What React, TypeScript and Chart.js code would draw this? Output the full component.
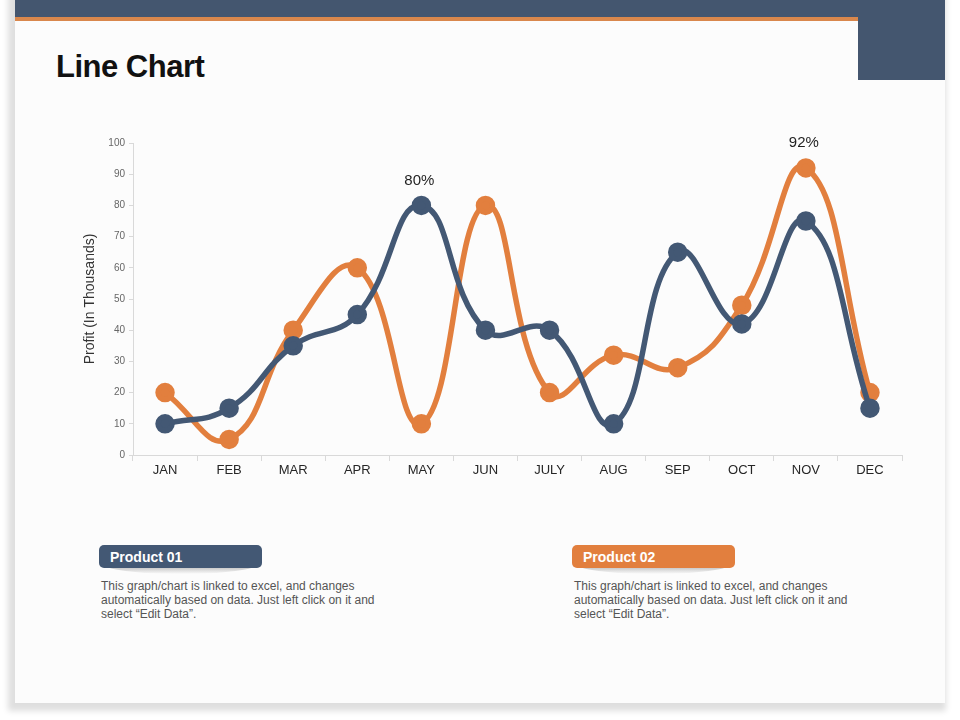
import React, { useEffect, useRef } from "react";
import { Chart, registerables } from "chart.js";

Chart.register(...registerables);

const months = ["JAN", "FEB", "MAR", "APR", "MAY", "JUN", "JULY", "AUG", "SEP", "OCT", "NOV", "DEC"];
const product01 = [10, 15, 35, 45, 80, 40, 40, 10, 65, 42, 75, 15];
const product02 = [20, 5, 40, 60, 10, 80, 20, 32, 28, 48, 92, 20];
const yTicks = { min: 0, max: 100, step: 10 };
const callouts = [
  { dataset: 0, index: 4, text: "80%" },
  { dataset: 1, index: 10, text: "92%" },
];
const seriesNames = ["Product 01", "Product 02"];
const description = [
  "This graph/chart is linked to excel,  and changes",
  "automatically based on data. Just left click on it and",
  "select \u201cEdit Data\u201d.",
];

const BLUE = "#435874";
const ORANGE = "#E27F3E";
const HEADER = "#44566F";

const calloutPlugin = {
  id: "callouts",
  afterDatasetsDraw(chart: any) {
    const ctx = chart.ctx;
    ctx.save();
    ctx.font = "15px 'Liberation Sans', Arial, sans-serif";
    ctx.fillStyle = "#1f1f1f";
    ctx.textAlign = "center";
    ctx.textBaseline = "middle";
    callouts.forEach((c) => {
      const meta = chart.getDatasetMeta(c.dataset);
      const pt = meta.data[c.index];
      if (pt) ctx.fillText(c.text, pt.x - 2, pt.y - 25);
    });
    ctx.restore();
  },
};

function LineChart() {
  const ref = useRef<HTMLCanvasElement | null>(null);
  useEffect(() => {
    if (!ref.current) return;
    const chart = new Chart(ref.current, {
      type: "line",
      data: {
        labels: months,
        datasets: [
          {
            label: seriesNames[0],
            data: product01,
            borderColor: BLUE,
            backgroundColor: BLUE,
            pointBackgroundColor: BLUE,
            pointBorderColor: BLUE,
            borderWidth: 5.5,
            pointRadius: 7,
            tension: 0.45,
            clip: false as any,
          },
          {
            label: seriesNames[1],
            data: product02,
            borderColor: ORANGE,
            backgroundColor: ORANGE,
            pointBackgroundColor: ORANGE,
            pointBorderColor: ORANGE,
            borderWidth: 5.5,
            pointRadius: 7,
            tension: 0.45,
            clip: false as any,
          },
        ],
      },
      options: {
        animation: false,
        responsive: false,
        maintainAspectRatio: false,
        layout: { padding: { left: 18, right: 18, top: 18, bottom: 0 } },
        plugins: {
          legend: { display: false },
          tooltip: { enabled: false },
        },
        scales: {
          x: {
            offset: true,
            grid: {
              display: true,
              offset: true,
              drawOnChartArea: false,
              drawTicks: true,
              tickLength: 6,
              color: "#d9d9d9",
            },
            border: { display: true, color: "#d9d9d9" },
            ticks: {
              color: "#262626",
              font: { family: "'Liberation Sans', Arial, sans-serif", size: 13 },
              padding: 2,
              maxRotation: 0,
              autoSkip: false,
            },
            afterFit(scale: any) {
              scale.height = 30;
            },
          },
          y: {
            min: yTicks.min,
            max: yTicks.max,
            grid: {
              display: true,
              drawOnChartArea: false,
              drawTicks: true,
              tickLength: 4,
              color: "#d9d9d9",
            },
            border: { display: true, color: "#d9d9d9" },
            ticks: {
              stepSize: yTicks.step,
              color: "#666666",
              font: { family: "'Liberation Sans', Arial, sans-serif", size: 10 },
              padding: 4,
            },
            title: {
              display: true,
              text: "Profit (In Thousands)",
              color: "#333333",
              font: { family: "'Liberation Sans', Arial, sans-serif", size: 14 },
              padding: { top: 4, bottom: 0 },
            },
            afterFit(scale: any) {
              scale.width = 55;
            },
          },
        },
      },
      plugins: [calloutPlugin],
    });
    return () => chart.destroy();
  }, []);
  return (
    <canvas
      ref={ref}
      width={860}
      height={360}
      style={{ position: "absolute", left: 60, top: 125, width: 860, height: 360 }}
    />
  );
}

function LegendBlock({ left, color, name }: { left: number; color: string; name: string }) {
  return (
    <div style={{ position: "absolute", left, top: 545, width: 300 }}>
      <div
        style={{
          position: "absolute",
          left: 4,
          top: 19,
          width: 155,
          height: 10,
          borderRadius: "0 0 50% 50% / 0 0 100% 100%",
          background: "linear-gradient(#aaaaaa, rgba(220,220,220,0))",
        }}
      />
      <div
        style={{
          position: "absolute",
          left: 0,
          top: 0,
          width: 163,
          height: 23,
          borderRadius: 5,
          background: color,
          color: "#fff",
          fontFamily: "'Liberation Sans', Arial, sans-serif",
          fontWeight: "bold",
          fontSize: 14,
          lineHeight: "24px",
          paddingLeft: 11,
          boxSizing: "border-box",
        }}
      >
        {name}
      </div>
      <div
        style={{
          position: "absolute",
          left: 2,
          top: 34,
          width: 300,
          fontFamily: "'Liberation Sans', Arial, sans-serif",
          fontSize: 12,
          lineHeight: "14px",
          color: "#555",
          whiteSpace: "nowrap",
        }}
      >
        {description.map((l, i) => (
          <div key={i}>{l}</div>
        ))}
      </div>
    </div>
  );
}

export default function App() {
  return (
    <div
      style={{
        position: "absolute",
        left: 0,
        top: 0,
        width: 960,
        height: 720,
        background: "#ffffff",
        overflow: "hidden",
      }}
    >
      <div
        style={{
          position: "absolute",
          left: 15,
          top: -10,
          width: 930,
          height: 713,
          background: "#fcfcfc",
          boxShadow: "-3px 4px 6px 4px rgba(0,0,0,0.13)",
        }}
      />
      <div style={{ position: "absolute", left: 15, top: 0, width: 930, height: 17, background: HEADER }} />
      <div style={{ position: "absolute", left: 15, top: 17, width: 845, height: 4, background: "#D9874C" }} />
      <div style={{ position: "absolute", left: 858, top: 0, width: 87, height: 80, background: HEADER }} />
      <div
        style={{
          position: "absolute",
          left: 56,
          top: 47,
          fontFamily: "'Liberation Sans', Arial, sans-serif",
          fontWeight: "bold",
          fontSize: 31,
          letterSpacing: -0.5,
          color: "#111",
          lineHeight: "40px",
        }}
      >
        Line Chart
      </div>
      <LineChart />
      <LegendBlock left={99} color={BLUE} name={seriesNames[0]} />
      <LegendBlock left={572} color={ORANGE} name={seriesNames[1]} />
    </div>
  );
}
